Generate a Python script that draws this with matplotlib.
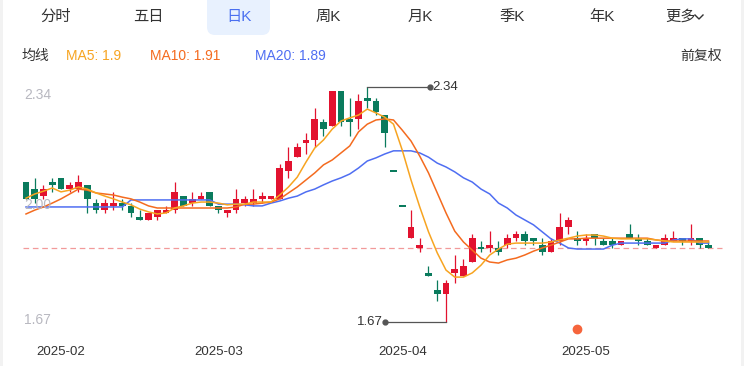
import numpy as np
import pandas as pd
import matplotlib
matplotlib.use("Agg")
import matplotlib.pyplot as plt
from matplotlib.patches import FancyBboxPatch, Rectangle
from matplotlib.lines import Line2D
from matplotlib.transforms import IdentityTransform

plt.rcParams['font.family'] = ['Liberation Sans', 'Noto Sans CJK SC', 'DejaVu Sans']

# trading days (exchange holidays removed)
holidays = pd.to_datetime(['2025-01-28', '2025-01-29', '2025-01-30', '2025-01-31',
                           '2025-02-03', '2025-02-04', '2025-04-04',
                           '2025-05-01', '2025-05-02', '2025-05-05'])
days = pd.bdate_range('2025-01-22', '2025-05-26')
days = days[~days.isin(holidays)]

opens = [2.07, 2.05, 2.03, 2.07, 2.08, 2.05, 2.05, 2.06, 2.01, 1.99,
         2.00, 2.01, 2.00, 1.97, 1.96, 1.97, 1.98, 1.99, 2.03, 2.01,
         2.02, 2.04, 2.00, 1.98, 1.99, 2.01, 2.01, 2.02, 2.02, 2.02,
         2.10, 2.14, 2.18, 2.19, 2.24, 2.23, 2.33, 2.25, 2.25, 2.31,
         2.30, 2.26, 2.10, 2.00, 1.91, 1.88, 1.81, 1.76, 1.75, 1.81,
         1.80, 1.84, 1.88, 1.88, 1.88, 1.89, 1.91, 1.92, 1.91, 1.89,
         1.87, 1.90, 1.94, 1.91, 1.90, 1.92, 1.90, 1.90, 1.89, 1.92,
         1.91, 1.90, 1.88, 1.89, 1.90, 1.91, 1.90, 1.91, 1.89]
closes = [2.02, 2.02, 2.05, 2.06, 2.05, 2.06, 2.07, 2.02, 1.99, 2.01,
          2.01, 2.00, 1.98, 1.96, 1.98, 1.99, 1.99, 2.04, 2.00, 2.02,
          2.03, 2.00, 1.99, 1.99, 2.02, 2.02, 2.02, 2.03, 2.03, 2.11,
          2.13, 2.17, 2.19, 2.25, 2.22, 2.33, 2.24, 2.24, 2.30, 2.30,
          2.27, 2.21, 2.10, 2.00, 1.94, 1.89, 1.80, 1.75, 1.78, 1.82,
          1.83, 1.91, 1.88, 1.89, 1.87, 1.91, 1.92, 1.90, 1.90, 1.87,
          1.90, 1.94, 1.96, 1.90, 1.91, 1.91, 1.89, 1.89, 1.90, 1.91,
          1.90, 1.89, 1.89, 1.91, 1.91, 1.90, 1.91, 1.89, 1.88]
highs = [2.07, 2.08, 2.06, 2.08, 2.08, 2.07, 2.09, 2.06, 2.02, 2.02,
         2.04, 2.02, 2.01, 1.99, 1.98, 1.99, 2.00, 2.07, 2.03, 2.04,
         2.04, 2.04, 2.00, 1.99, 2.05, 2.03, 2.05, 2.04, 2.03, 2.12,
         2.17, 2.18, 2.21, 2.28, 2.25, 2.33, 2.33, 2.31, 2.32, 2.34,
         2.31, 2.26, 2.10, 2.00, 1.99, 1.91, 1.83, 1.79, 1.79, 1.86,
         1.85, 1.92, 1.90, 1.93, 1.90, 1.92, 1.93, 1.93, 1.91, 1.91,
         1.91, 1.98, 1.97, 1.93, 1.92, 1.92, 1.91, 1.91, 1.90, 1.95,
         1.92, 1.91, 1.89, 1.92, 1.93, 1.91, 1.95, 1.91, 1.90]
lows = [2.02, 2.01, 2.02, 2.04, 2.05, 2.04, 2.04, 1.98, 1.98, 1.98,
        1.99, 1.99, 1.97, 1.96, 1.96, 1.96, 1.98, 1.98, 2.00, 2.00,
        2.02, 2.00, 1.98, 1.97, 1.98, 2.00, 2.00, 2.01, 2.02, 2.02,
        2.08, 2.14, 2.15, 2.17, 2.20, 2.23, 2.23, 2.20, 2.22, 2.28,
        2.26, 2.17, 2.10, 2.00, 1.91, 1.87, 1.80, 1.73, 1.67, 1.78,
        1.80, 1.84, 1.87, 1.87, 1.86, 1.88, 1.90, 1.89, 1.89, 1.86,
        1.87, 1.89, 1.92, 1.89, 1.89, 1.89, 1.89, 1.88, 1.89, 1.91,
        1.89, 1.89, 1.88, 1.89, 1.90, 1.89, 1.89, 1.88, 1.88]

ma5 = [2.023, 2.035, 2.043, 2.052, 2.041, 2.046, 2.055, 2.049, 2.038, 2.029,
       2.021, 2.012, 2.004, 1.992, 1.984, 1.978, 1.981, 1.995, 2.001, 2.009,
       2.012, 2.012, 2.009, 2.004, 2.006, 2.006, 2.012, 2.012, 2.012, 2.032,
       2.055, 2.083, 2.126, 2.166, 2.189, 2.220, 2.243, 2.252, 2.260, 2.277,
       2.266, 2.254, 2.234, 2.160, 2.075, 1.998, 1.927, 1.867, 1.818, 1.798,
       1.798, 1.810, 1.832, 1.861, 1.878, 1.892, 1.895, 1.895, 1.895, 1.895,
       1.898, 1.904, 1.909, 1.915, 1.918, 1.918, 1.915, 1.909, 1.907, 1.907,
       1.907, 1.907, 1.904, 1.901, 1.898, 1.898, 1.898, 1.898, 1.898]
ma10 = [1.978, 1.989, 1.998, 2.009, 2.021, 2.035, 2.049, 2.046, 2.038, 2.035,
        2.032, 2.026, 2.021, 2.012, 2.001, 1.995, 1.995, 1.995, 1.995, 1.995,
        1.995, 1.995, 1.995, 1.995, 1.998, 2.006, 2.006, 2.009, 2.012, 2.021,
        2.038, 2.055, 2.075, 2.095, 2.118, 2.132, 2.152, 2.172, 2.212, 2.234,
        2.246, 2.249, 2.246, 2.217, 2.186, 2.143, 2.095, 2.038, 1.981, 1.929,
        1.898, 1.875, 1.852, 1.841, 1.838, 1.847, 1.852, 1.861, 1.872, 1.881,
        1.889, 1.898, 1.907, 1.907, 1.909, 1.909, 1.909, 1.909, 1.909, 1.909,
        1.909, 1.909, 1.904, 1.901, 1.901, 1.901, 1.901, 1.901, 1.901]
ma20 = [1.998, 1.998, 1.998, 1.998, 1.998, 1.998, 1.998, 1.998, 1.998, 1.998,
        1.998, 1.998, 2.018, 2.018, 2.018, 2.018, 2.018, 2.018, 2.018, 2.018,
        2.018, 2.018, 2.006, 2.006, 2.006, 2.004, 2.001, 2.001, 2.009, 2.015,
        2.023, 2.029, 2.041, 2.049, 2.061, 2.072, 2.081, 2.092, 2.109, 2.129,
        2.138, 2.149, 2.158, 2.158, 2.158, 2.152, 2.140, 2.123, 2.112, 2.098,
        2.081, 2.069, 2.049, 2.035, 2.009, 1.995, 1.975, 1.961, 1.947, 1.927,
        1.907, 1.895, 1.881, 1.878, 1.878, 1.878, 1.878, 1.889, 1.895, 1.895,
        1.895, 1.895, 1.895, 1.895, 1.904, 1.907, 1.907, 1.895, 1.895]

tabs = ['分时', '五日', '日K', '周K', '月K', '季K', '年K', '更多']
y_labels = ['2.34', '2.00', '1.67']
legend = [('MA5: 1.9', 66), ('MA10: 1.91', 150), ('MA20: 1.89', 255)]

UP = '#e2122f'
DOWN = '#0a7b5d'
C5, C10, C20 = '#f7a421', '#f46b1f', '#4f6ef2'

W, H = 744, 366
fig = plt.figure(figsize=(W / 100, H / 100), dpi=100)
ax = fig.add_axes([0, 0, 1, 1])
ax.axis('off')
# x: candle i sits at pixel 26 + 8.75 i ; y: 2.34 -> px 87, 1.67 -> px 322
step = 8.75
ppu = 235 / 0.67
ax.set_xlim(-26 / step, (W - 26) / step)
ax.set_ylim(2.34 - (H - 87) / ppu, 2.34 + 87 / ppu)


def fy(py):
    return 1 - py / H


x = np.arange(len(closes))
for i in x:
    o, c, h, l = opens[i], closes[i], highs[i], lows[i]
    if c > o or (c == o and i > 0 and c >= closes[i - 1]):
        col = UP
    else:
        col = DOWN
    ax.vlines(i, l, h, color=col, lw=0.9, zorder=2)
    hgt = abs(c - o)
    if hgt < 0.005:
        ax.bar(i, 0.005, bottom=c - 0.0025, width=0.78, color=col, zorder=2)
    else:
        ax.bar(i, hgt, bottom=min(o, c), width=0.78, color=col, zorder=2)

ax.plot(x, ma20, color=C20, lw=1.1, zorder=3)
ax.plot(x, ma10, color=C10, lw=1.1, zorder=3)
ax.plot(x, ma5, color=C5, lw=1.1, zorder=3)

# last price dashed line
ax.hlines(closes[-1], -3 / step, 696 / step, color='#f29a9a', lw=0.9,
          linestyle=(0, (4.5, 3)), zorder=1)

# max / min markers
imax = int(np.argmax(highs))
imin = int(np.argmin(lows))
xm = (430 - 26) / step
ax.plot([imax, xm], [highs[imax]] * 2, color='#555555', lw=0.9, zorder=4)
ax.plot(xm, highs[imax], 'o', color='#555555', ms=3.5, zorder=4)
ax.text(xm + 0.3, highs[imax], f'{highs[imax]:.2f}', ha='left', va='center',
        fontsize=9.5, color='#333333')
xn = (385 - 26) / step
ax.plot([imin, xn], [lows[imin]] * 2, color='#555555', lw=0.9, zorder=4)
ax.plot(xn, lows[imin], 'o', color='#555555', ms=3.5, zorder=4)
ax.text(xn - 0.3, lows[imin], f'{lows[imin]:.2f}', ha='right', va='center',
        fontsize=9.5, color='#333333')

# y labels
for lab, py in zip(y_labels, [95, 205, 320]):
    fig.text(24 / W, fy(py), lab, ha='left', va='center', fontsize=10, color='#b8b8c0')

# month labels
tr = ax.get_xaxis_transform()
months = pd.Series(days.month)
for i in months.index[months != months.shift()]:
    if days[i].day > 10:
        continue
    ax.text(i, fy(352), days[i].strftime('%Y-%m'), transform=tr, ha='center',
            va='center', fontsize=9.5, color='#333333')

# event dot
ax.plot(63, fy(329), 'o', transform=tr, color='#f6653c', ms=6, zorder=5)

# side borders
fig.add_artist(Rectangle((0, 0), 3, H, transform=IdentityTransform(),
                         facecolor='#f2f2f2', edgecolor='none'))
fig.add_artist(Rectangle((W - 3, 0), 3, H, transform=IdentityTransform(),
                         facecolor='#f2f2f2', edgecolor='none'))

# tab bar
fig.add_artist(FancyBboxPatch((207, H - 35), 63, 50, boxstyle='round,pad=0,rounding_size=8',
                              transform=IdentityTransform(), facecolor='#e8f1fe',
                              edgecolor='none'))
tab_x = [56, 148, 239, 328, 420, 512, 602, 681]
for t, tx in zip(tabs, tab_x):
    fig.text(tx / W, fy(17), t, ha='center', va='center', fontsize=11,
             color='#4a6ff0' if t == '日K' else '#333333')
fig.add_artist(Line2D([695, 699, 703], [H - 15, H - 19, H - 15],
                      transform=IdentityTransform(), color='#333333', lw=1))

# MA legend row
fig.text(22 / W, fy(56), '均线', ha='left', va='center', fontsize=10, color='#333333')
for (lab, px), col in zip(legend, [C5, C10, C20]):
    fig.text(px / W, fy(56), lab, ha='left', va='center', fontsize=10, color=col)
fig.text(722 / W, fy(56), '前复权', ha='right', va='center', fontsize=10, color='#333333')

fig.savefig('out.png', dpi=100)
